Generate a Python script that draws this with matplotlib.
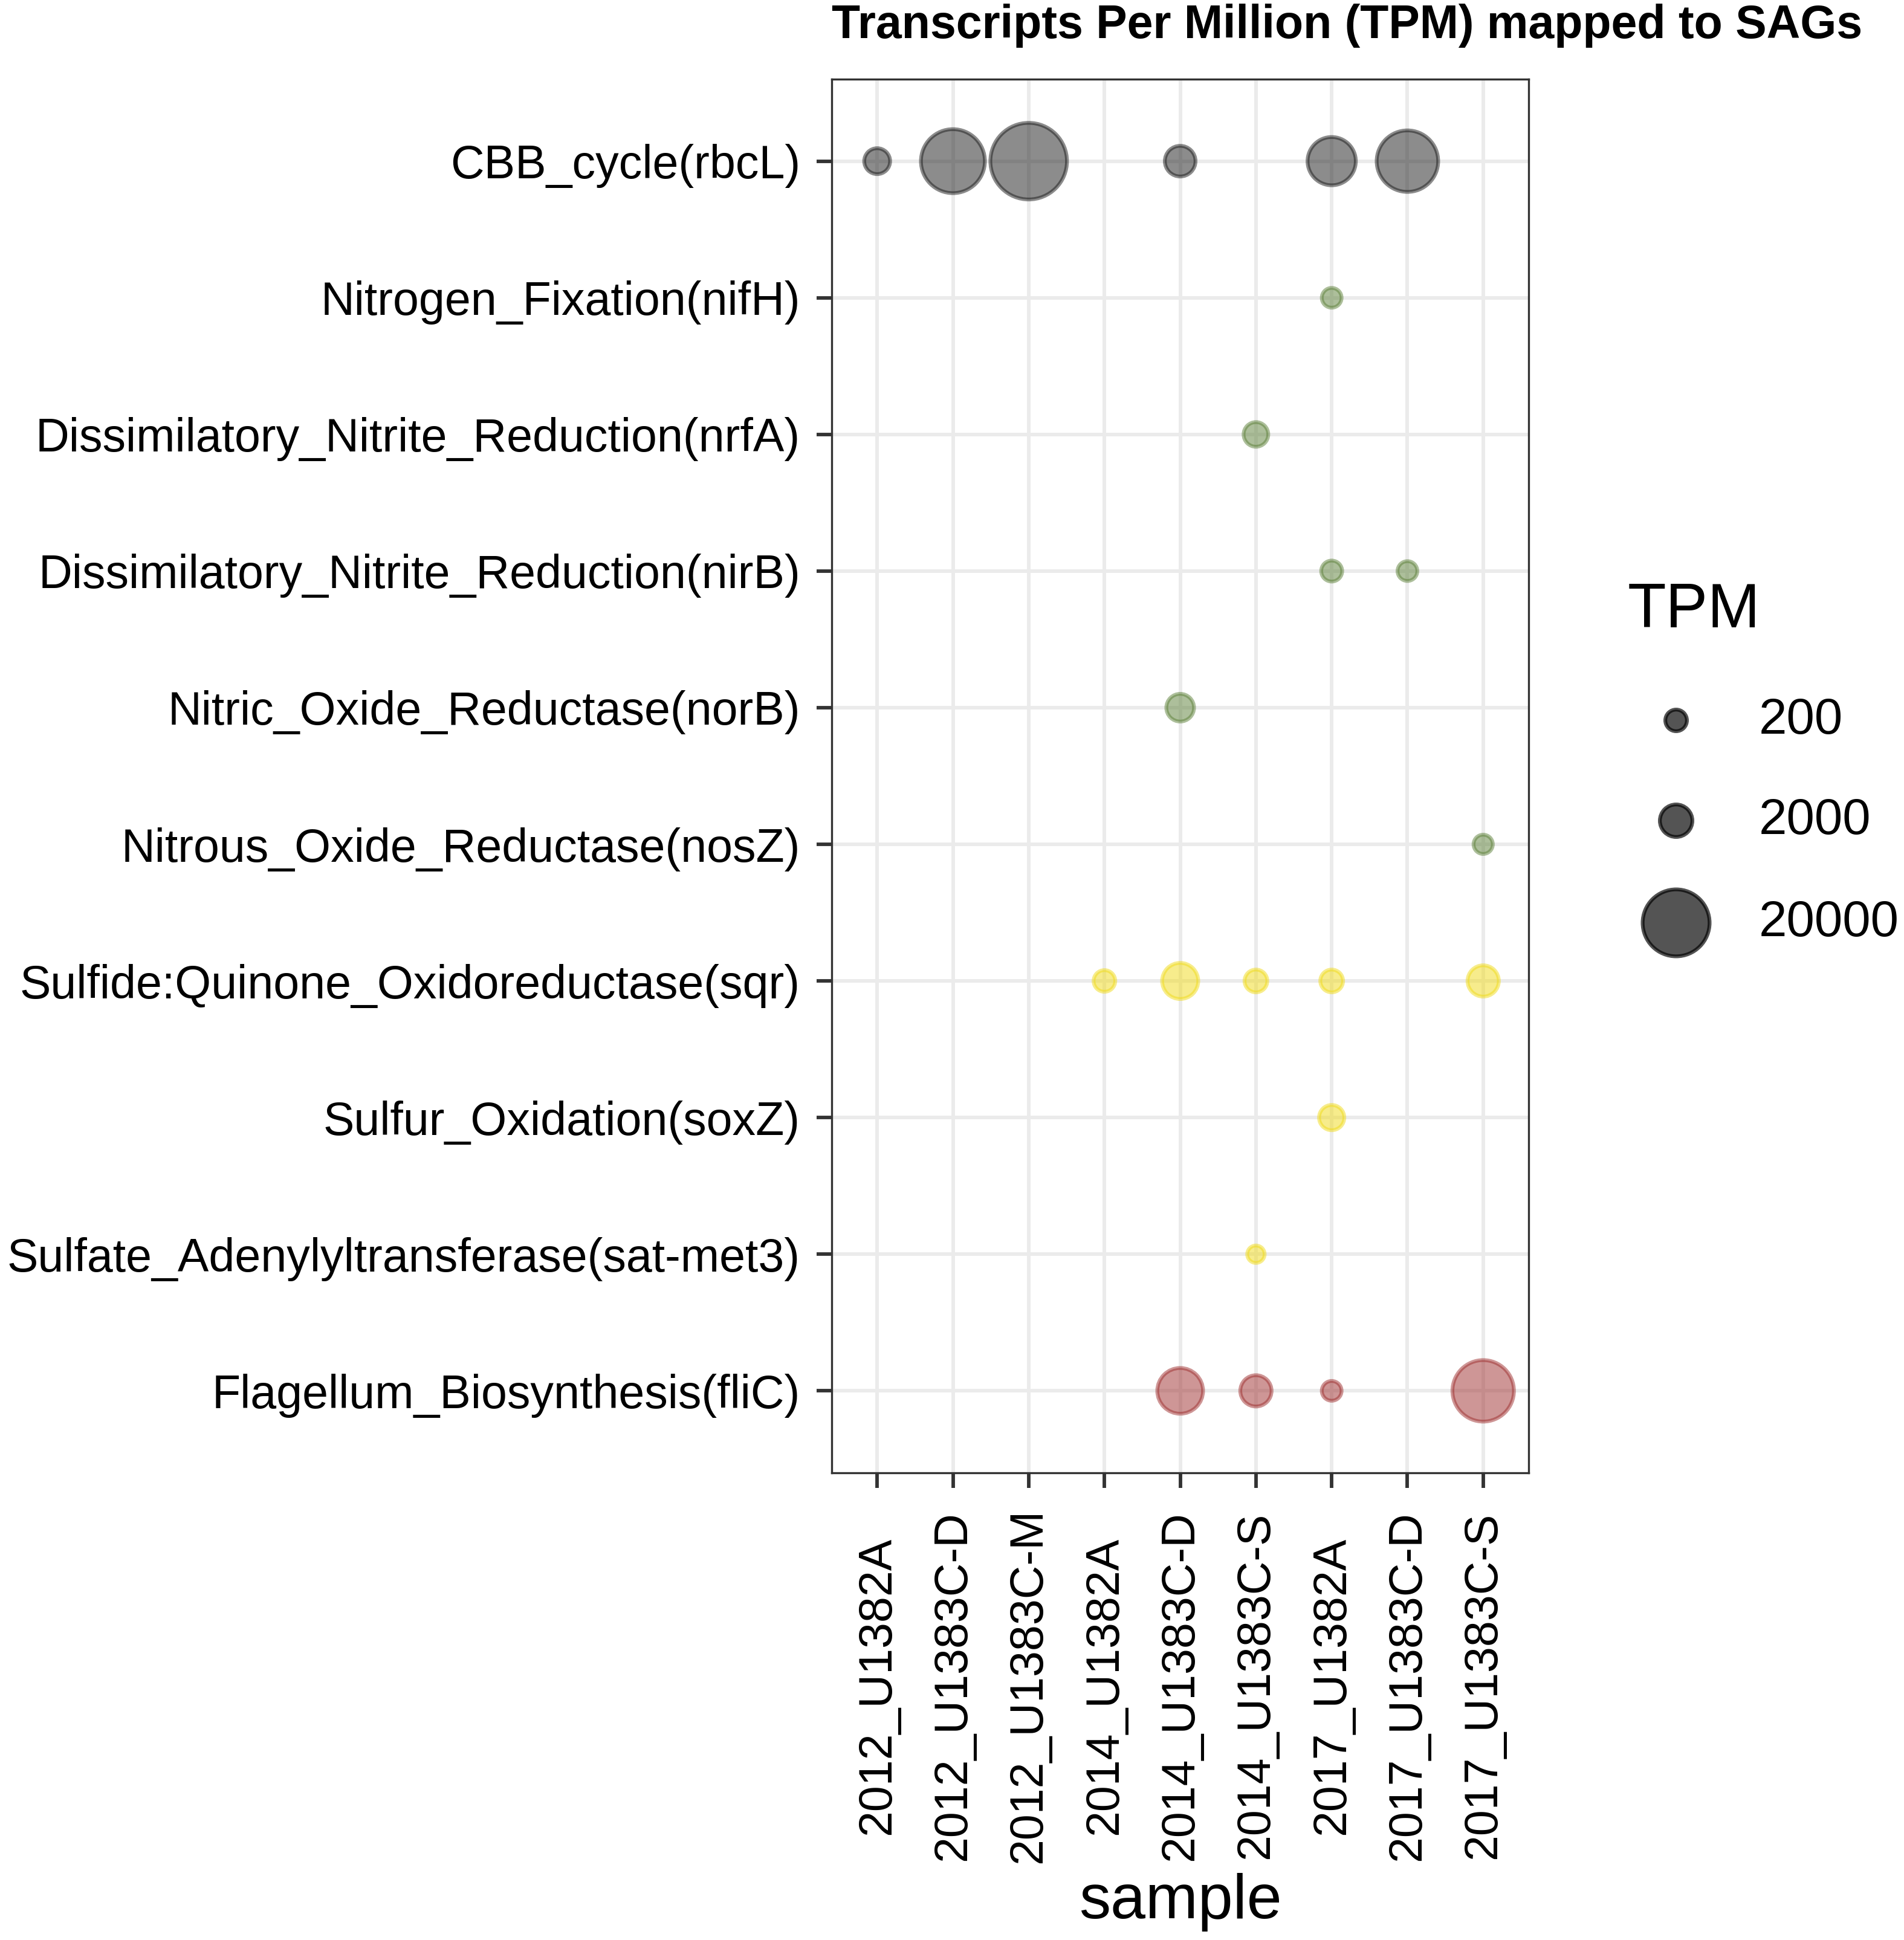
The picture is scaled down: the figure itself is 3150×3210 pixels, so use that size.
import numpy as np
import matplotlib
matplotlib.use("Agg")
import matplotlib.pyplot as plt

plt.rcParams['font.family'] = ['Liberation Sans', 'DejaVu Sans']

####################################################################################
### data
####################################################################################

samples = ['2012_U1382A', '2012_U1383C-D', '2012_U1383C-M', '2014_U1382A',
           '2014_U1383C-D', '2014_U1383C-S', '2017_U1382A', '2017_U1383C-D',
           '2017_U1383C-S']

genes = ['CBB_cycle(rbcL)',
         'Nitrogen_Fixation(nifH)',
         'Dissimilatory_Nitrite_Reduction(nrfA)',
         'Dissimilatory_Nitrite_Reduction(nirB)',
         'Nitric_Oxide_Reductase(norB)',
         'Nitrous_Oxide_Reductase(nosZ)',
         'Sulfide:Quinone_Oxidoreductase(sqr)',
         'Sulfur_Oxidation(soxZ)',
         'Sulfate_Adenylyltransferase(sat-met3)',
         'Flagellum_Biosynthesis(fliC)']

# pathway group of each gene row
gene_group = ['carbon', 'nitrogen', 'nitrogen', 'nitrogen', 'nitrogen', 'nitrogen',
              'sulfur', 'sulfur', 'sulfur', 'motility']

# one entry per point: gene, sample, TPM
pt_gene = ['CBB_cycle(rbcL)'] * 6 + \
          ['Nitrogen_Fixation(nifH)',
           'Dissimilatory_Nitrite_Reduction(nrfA)',
           'Dissimilatory_Nitrite_Reduction(nirB)',
           'Dissimilatory_Nitrite_Reduction(nirB)',
           'Nitric_Oxide_Reductase(norB)',
           'Nitrous_Oxide_Reductase(nosZ)'] + \
          ['Sulfide:Quinone_Oxidoreductase(sqr)'] * 5 + \
          ['Sulfur_Oxidation(soxZ)',
           'Sulfate_Adenylyltransferase(sat-met3)'] + \
          ['Flagellum_Biosynthesis(fliC)'] * 4
pt_sample = ['2012_U1382A', '2012_U1383C-D', '2012_U1383C-M', '2014_U1383C-D', '2017_U1382A', '2017_U1383C-D',
             '2017_U1382A',
             '2014_U1383C-S',
             '2017_U1382A', '2017_U1383C-D',
             '2014_U1383C-D',
             '2017_U1383C-S',
             '2014_U1382A', '2014_U1383C-D', '2014_U1383C-S', '2017_U1382A', '2017_U1383C-S',
             '2017_U1382A',
             '2014_U1383C-S',
             '2014_U1383C-D', '2014_U1383C-S', '2017_U1382A', '2017_U1383C-S']
pt_tpm = [680, 17700, 28400, 1560, 7900, 15900,
          80,
          510,
          150, 80,
          970,
          55,
          200, 3000, 300, 300, 1700,
          590,
          5,
          6700, 1700, 80, 15900]

legend_tpm = [200, 2000, 20000]

group_colors = {
    'carbon':   (0.10, 0.10, 0.10),
    'nitrogen': (0.36, 0.50, 0.22),
    'sulfur':   (0.94, 0.86, 0.10),
    'motility': (0.62, 0.18, 0.18),
}
point_alpha = 0.5

####################################################################################
### figure
####################################################################################

W, H = 3150, 3210
DPI = 300
fig = plt.figure(figsize=(W / DPI, H / DPI), dpi=DPI)
fig.patch.set_facecolor('white')

p_left, p_right, p_top, p_bottom = 1376, 2529, 131, 2437
ax = fig.add_axes([p_left / W, 1 - p_bottom / H, (p_right - p_left) / W, (p_bottom - p_top) / H])

edge_lw = 1.5  # pt
edge_px = edge_lw * DPI / 72


def tpm_to_s(v):
    # visible diameter in px -> marker area in pt^2
    d_px = 33.7 + 0.589 * np.sqrt(np.asarray(v, dtype=float))
    d_pt = (d_px - edge_px) * 72 / DPI
    return d_pt ** 2


x = [samples.index(s) for s in pt_sample]
y = [genes.index(g) for g in pt_gene]
cols = [group_colors[gene_group[genes.index(g)]] + (point_alpha,) for g in pt_gene]

ax.scatter(x, y, s=tpm_to_s(pt_tpm), c=cols, edgecolors=cols, linewidths=edge_lw, zorder=3)

ax.set_xlim(-0.6, len(samples) - 1 + 0.6)
ax.set_ylim(len(genes) - 1 + 0.6, -0.6)
ax.set_xticks(range(len(samples)))
ax.set_xticklabels(samples, rotation=90, ha='center', va='center')
ax.set_yticks(range(len(genes)))
ax.set_yticklabels(genes)

ax.grid(True, color='#EBEBEB', lw=1.42)
ax.set_axisbelow(True)
for sp in ax.spines.values():
    sp.set_color('#333333')
    sp.set_linewidth(0.8)
ax.tick_params(axis='both', length=6, width=1.4, color='#333333', labelsize=18.5,
               labelcolor='black', pad=6.5)
# x labels are centred along their length, ~352 px below the panel
ax.tick_params(axis='x', pad=78.5)

####################################################################################
### texts
####################################################################################

fig.text(p_left / W, 1 - 63 / H, 'Transcripts Per Million (TPM) mapped to SAGs',
         ha='left', va='baseline', fontsize=18.5, fontweight='bold')
fig.text((p_left + p_right) / 2 / W, 1 - 3148 / H, 'sample', ha='center', va='center', fontsize=25)

####################################################################################
### size legend
####################################################################################

lax = fig.add_axes([0, 0, 1, 1])
lax.set_xlim(0, W)
lax.set_ylim(H, 0)
lax.axis('off')
lax.text(2693, 1011, 'TPM', ha='left', va='center', fontsize=25)
key_y = [1192, 1358, 1527]
lax.scatter([2773] * 3, key_y, s=tpm_to_s(legend_tpm), c=[(0, 0, 0, 0.67)] * 3,
            edgecolors=[(0, 0, 0, 0.67)] * 3, linewidths=edge_lw)
for ky, v in zip(key_y, legend_tpm):
    lax.text(2910, ky, str(v), ha='left', va='center', fontsize=20)

fig.savefig('out.png', dpi=DPI)
